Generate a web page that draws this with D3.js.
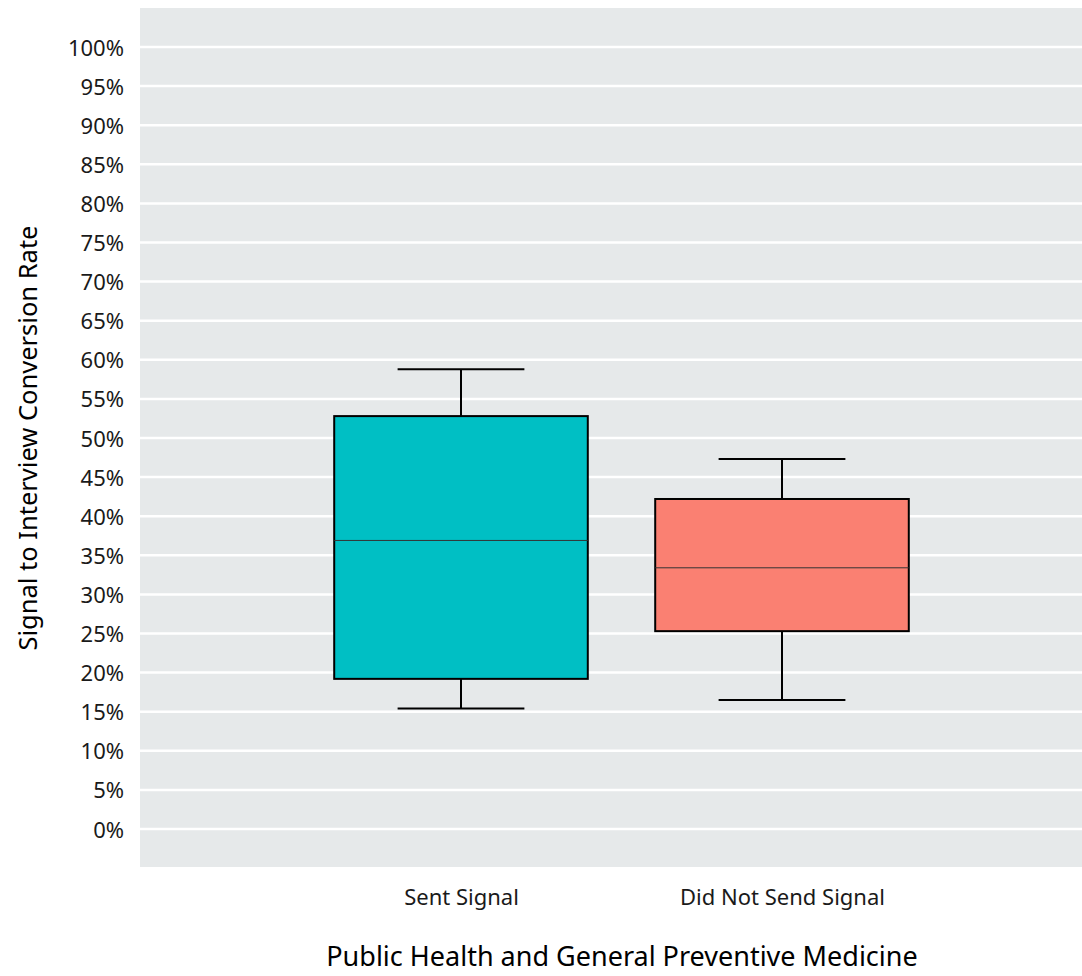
<!DOCTYPE html>
<html><head><meta charset="utf-8">
<script src="https://cdn.jsdelivr.net/npm/d3@7"></script>
<style>body{margin:0;background:#fff;} text{font-family:"Noto Sans","Open Sans",sans-serif;}</style>
</head><body>
<svg id="c" width="1082" height="976"></svg>
<script>
const categories = ["Sent Signal", "Did Not Send Signal"];
const whiskerLow = [0.154, 0.165];
const q1 = [0.192, 0.253];
const median = [0.369, 0.334];
const q3 = [0.528, 0.422];
const whiskerHigh = [0.588, 0.473];
const colors = ["#00BFC4", "#FA8072"];
const yTicks = d3.range(0, 1.0001, 0.05);
const xTitle = "Public Health and General Preventive Medicine";
const yTitle = "Signal to Interview Conversion Rate";

const svg = d3.select("#c");
const panel = {x0: 140, x1: 1082, y0: 8, y1: 867};
const y = d3.scaleLinear().domain([0, 1]).range([829, 47]);
const x = d3.scalePoint().domain(categories).range([461, 782]);
const step = 321;
const boxW = step * 0.79;
const capW = boxW / 2;

svg.append("rect").attr("x", panel.x0).attr("y", panel.y0)
  .attr("width", panel.x1 - panel.x0).attr("height", panel.y1 - panel.y0).attr("fill", "#E6E9EA");

svg.append("g").selectAll("line").data(yTicks).join("line")
  .attr("x1", panel.x0).attr("x2", panel.x1)
  .attr("y1", d => y(d)).attr("y2", d => y(d))
  .attr("stroke", "#fff").attr("stroke-width", 2.5);

const yAxis = d3.axisLeft(y).tickValues(yTicks).tickFormat(d3.format(".0%")).tickSize(0).tickPadding(0);
const ya = svg.append("g").attr("transform", "translate(124,1)").call(yAxis);
ya.select(".domain").remove();
ya.selectAll("text").attr("font-size", 22).attr("fill", "#1a1a1a").attr("font-family", "Noto Sans");

const xAxis = d3.axisBottom(x).tickSize(0).tickPadding(0);
const xa = svg.append("g").attr("transform", "translate(0,889)").call(xAxis);
xa.select(".domain").remove();
xa.selectAll("text").attr("font-size", 22).attr("fill", "#1a1a1a").attr("font-family", "Noto Sans");

const g = svg.append("g");
categories.forEach((c, i) => {
  const cx = x(c);
  g.append("line").attr("x1", cx).attr("x2", cx).attr("y1", y(whiskerHigh[i])).attr("y2", y(q3[i]))
    .attr("stroke", "#000").attr("stroke-width", 2);
  g.append("line").attr("x1", cx).attr("x2", cx).attr("y1", y(whiskerLow[i])).attr("y2", y(q1[i]))
    .attr("stroke", "#000").attr("stroke-width", 2);
  g.append("line").attr("x1", cx - capW / 2).attr("x2", cx + capW / 2).attr("y1", y(whiskerHigh[i])).attr("y2", y(whiskerHigh[i]))
    .attr("stroke", "#000").attr("stroke-width", 2);
  g.append("line").attr("x1", cx - capW / 2).attr("x2", cx + capW / 2).attr("y1", y(whiskerLow[i])).attr("y2", y(whiskerLow[i]))
    .attr("stroke", "#000").attr("stroke-width", 2);
  g.append("rect").attr("x", cx - boxW / 2).attr("width", boxW)
    .attr("y", y(q3[i])).attr("height", y(q1[i]) - y(q3[i]))
    .attr("fill", colors[i]).attr("stroke", "#000").attr("stroke-width", 2);
  g.append("line").attr("x1", cx - boxW / 2).attr("x2", cx + boxW / 2).attr("y1", y(median[i])).attr("y2", y(median[i]))
    .attr("stroke", "#333").attr("stroke-width", 1);
});

svg.append("text").attr("x", 622).attr("y", 966).attr("text-anchor", "middle")
  .attr("font-size", 27).attr("fill", "#000").text(xTitle);
svg.append("text").attr("transform", "translate(37,438) rotate(-90)").attr("text-anchor", "middle")
  .attr("font-size", 25.5).attr("fill", "#000").text(yTitle);
</script>
</body></html>
